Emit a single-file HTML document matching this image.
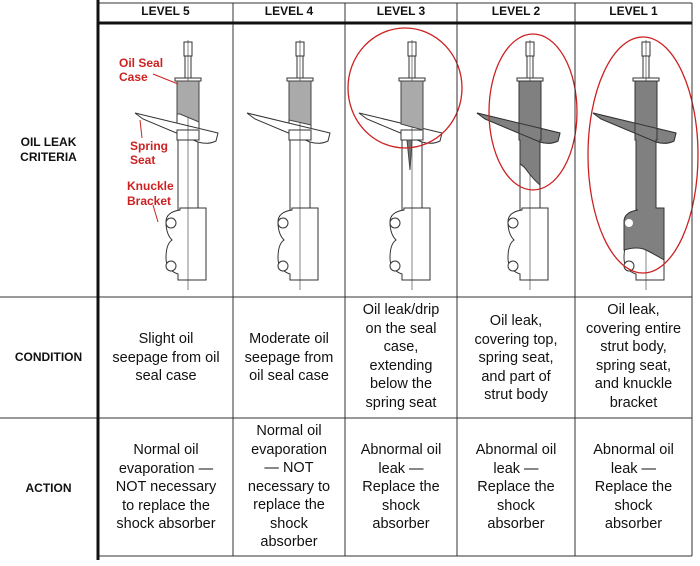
<!DOCTYPE html>
<html><head><style>
body{margin:0;background:#fff;width:700px;height:566px;overflow:hidden;font-family:"Liberation Sans",sans-serif;}
.t{position:absolute;text-align:center;color:#111;font-size:14.5px;line-height:18.5px}
.h{position:absolute;top:4px;font-size:12px;font-weight:bold;text-align:center;color:#111}
.l{position:absolute;left:0;width:97px;text-align:center;font-size:12px;font-weight:bold;color:#111}
</style></head><body>
<svg width="700" height="566" style="position:absolute;left:0;top:0">
<defs>
<g id="strut" stroke="#333" stroke-width="1" fill="#fff">
 <rect x="-4" y="-108" width="8" height="14"/>
 <rect x="-3" y="-94" width="6" height="22"/>
 <rect x="-13" y="-72" width="26" height="3"/>
 <rect x="-11" y="-69" width="22" height="8"/>
 <rect x="-11" y="-61" width="22" height="50"/>
 <rect x="-10" y="-10" width="20" height="70"/>
 <path d="M-8 58 H18 V130 H-10 V124 Q-22 120 -22 108 Q-22 94 -16 90 Q-22 84 -22 72 Q-22 62 -8 60Z"/>
 <circle cx="-17" cy="73" r="5"/><circle cx="-17" cy="116" r="5"/>
 <path d="M-53 -37 L30 -17 L28 -9 Q20 -5 10 -8 L-45 -31Z"/>
 <rect x="-11" y="-20" width="22" height="10"/>
 <line x1="0" y1="-110" x2="0" y2="140" stroke-width="0.6"/>
</g>
</defs>
<g transform="translate(188,150)"><use href="#strut"/>
 <path d="M-11 -69 H11 V-28 L-8 -36 L-11 -36Z" fill="#aaa" stroke="#444"/>
</g>
<g transform="translate(300,150)"><use href="#strut"/>
 <path d="M-11 -69 H11 V-25 L-11 -30Z" fill="#aaa" stroke="#444"/>
</g>
<g transform="translate(412,150)"><use href="#strut"/>
 <path d="M-11 -69 H11 V-20 L-11 -26Z" fill="#aaa" stroke="#444"/>
 <path d="M-5 -10 L0 -10 L-2 20Z" fill="#777" stroke="#444"/>
</g>
<g transform="translate(530,150)"><use href="#strut"/>
 <path d="M-11 -69 H11 V-10 H10 V35 Q4 30 -2 22 Q-6 16 -10 14 V-10 H-11Z M-53 -37 L30 -17 L28 -9 Q20 -5 10 -8 L-45 -31Z" fill="#808080" stroke="#333"/>
</g>
<g transform="translate(646,150)"><use href="#strut"/>
 <path d="M-11 -69 H11 V-10 H10 V58 H18 V110 Q8 104 0 100 Q-8 96 -22 100 V72 Q-22 62 -8 60 H-10 V-10 H-11Z M-53 -37 L30 -17 L28 -9 Q20 -5 10 -8 L-45 -31Z" fill="#808080" stroke="#333"/>
 <circle cx="-17" cy="73" r="4" fill="#fff"/>
</g>
<g fill="none" stroke="#c22" stroke-width="1.3">
 <ellipse cx="405" cy="88" rx="57" ry="60"/>
 <ellipse cx="533" cy="112" rx="44" ry="78"/>
 <ellipse cx="643" cy="155" rx="55" ry="118"/>
</g>
<g stroke="#c22" stroke-width="1">
 <line x1="153" y1="74" x2="178" y2="84"/>
 <line x1="140" y1="120" x2="142" y2="138"/>
 <line x1="153" y1="205" x2="158" y2="222"/>
</g>
<g stroke="#333" stroke-width="1">
 <line x1="97" y1="3" x2="692" y2="3"/>
 <line x1="233" y1="3" x2="233" y2="556"/>
 <line x1="345" y1="3" x2="345" y2="556"/>
 <line x1="457" y1="3" x2="457" y2="556"/>
 <line x1="575" y1="3" x2="575" y2="556"/>
 <line x1="692" y1="3" x2="692" y2="556"/>
 <line x1="0" y1="297" x2="692" y2="297"/>
 <line x1="0" y1="418" x2="692" y2="418"/>
 <line x1="97" y1="556" x2="692" y2="556"/>
</g>
<line x1="97" y1="23" x2="692" y2="23" stroke="#111" stroke-width="3"/>
<line x1="98" y1="0" x2="98" y2="560" stroke="#111" stroke-width="3"/>
<g fill="#c22" font-family="Liberation Sans" font-weight="bold" font-size="12">
 <text x="119" y="67">Oil Seal</text><text x="119" y="81">Case</text>
 <text x="130" y="150">Spring</text><text x="130" y="164">Seat</text>
 <text x="127" y="190">Knuckle</text><text x="127" y="205">Bracket</text>
</g>
</svg>
<div class="h" style="left:98px;width:135px">LEVEL 5</div>
<div class="h" style="left:233px;width:112px">LEVEL 4</div>
<div class="h" style="left:345px;width:112px">LEVEL 3</div>
<div class="h" style="left:457px;width:118px">LEVEL 2</div>
<div class="h" style="left:575px;width:117px">LEVEL 1</div>
<div class="l" style="top:135px;line-height:15px">OIL LEAK<br>CRITERIA</div>
<div class="l" style="top:350px">CONDITION</div>
<div class="l" style="top:481px">ACTION</div>

<div class="t" style="left:99px;width:134px;top:330px">Slight oil<br>seepage from oil<br>seal case</div>
<div class="t" style="left:233px;width:112px;top:330px">Moderate oil<br>seepage from<br>oil seal case</div>
<div class="t" style="left:345px;width:112px;top:301px">Oil leak/drip<br>on the seal<br>case,<br>extending<br>below the<br>spring seat</div>
<div class="t" style="left:457px;width:118px;top:312px">Oil leak,<br>covering top,<br>spring seat,<br>and part of<br>strut body</div>
<div class="t" style="left:575px;width:117px;top:301px">Oil leak,<br>covering entire<br>strut body,<br>spring seat,<br>and knuckle<br>bracket</div>

<div class="t" style="left:99px;width:134px;top:441px">Normal oil<br>evaporation —<br>NOT necessary<br>to replace the<br>shock absorber</div>
<div class="t" style="left:233px;width:112px;top:422px">Normal oil<br>evaporation<br>— NOT<br>necessary to<br>replace the<br>shock<br>absorber</div>
<div class="t" style="left:345px;width:112px;top:441px">Abnormal oil<br>leak —<br>Replace the<br>shock<br>absorber</div>
<div class="t" style="left:457px;width:118px;top:441px">Abnormal oil<br>leak —<br>Replace the<br>shock<br>absorber</div>
<div class="t" style="left:575px;width:117px;top:441px">Abnormal oil<br>leak —<br>Replace the<br>shock<br>absorber</div>
</body></html>
